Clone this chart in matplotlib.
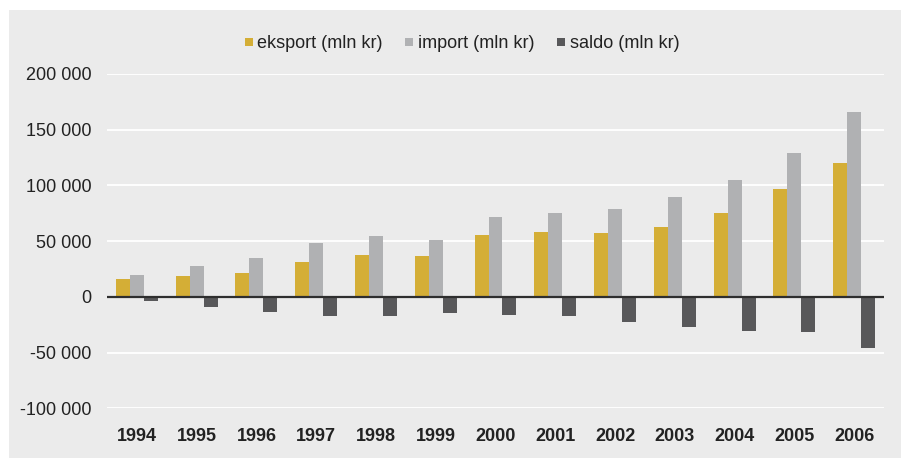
import matplotlib

matplotlib.use("Agg")
import matplotlib.pyplot as plt
import matplotlib.ticker as mtick
import numpy as np
from matplotlib.lines import Line2D
from matplotlib.patches import Rectangle

plt.rcParams["font.family"] = ["Liberation Sans", "DejaVu Sans"]

# Data (mln kr)
years = ["1994", "1995", "1996", "1997", "1998", "1999", "2000",
         "2001", "2002", "2003", "2004", "2005", "2006"]
eksport = [16200, 18900, 21600, 31500, 37800, 36900, 55800,
           58500, 57600, 63000, 75600, 97200, 119700]
import_ = [19800, 27900, 35100, 48600, 54900, 51300, 72000,
           75600, 79200, 90000, 105300, 128700, 165600]
saldo = [-3600, -9000, -13500, -17100, -17100, -14400, -16200,
         -17100, -22500, -27000, -30600, -31500, -45900]
series_labels = ["eksport (mln kr)", "import (mln kr)", "saldo (mln kr)"]
yticks = [-100000, -50000, 0, 50000, 100000, 150000, 200000]

colors = ["#D4AE36", "#B0B1B3", "#58585A"]
bg = "#EBEBEB"
text_color = "#222222"

W, H = 901, 458
fig = plt.figure(figsize=(W / 100, H / 100), dpi=100)
fig.patch.set_facecolor("white")
# grey panel behind the chart
fig.patches.append(
    Rectangle((9 / W, 0), 1 - 9 / W, (H - 10) / H,
              transform=fig.transFigure, facecolor=bg, edgecolor="none", zorder=-10)
)

ax = fig.add_axes([107 / W, (H - 408.3) / H, (884 - 107) / W, (408.3 - 74) / H])
ax.set_facecolor(bg)

x = np.arange(len(years))
width = 0.234
for i, vals in enumerate([eksport, import_, saldo]):
    ax.bar(x + (i - 1) * width, vals, width=width, color=colors[i],
           zorder=3, linewidth=0)

ax.set_xlim(-0.5, len(years) - 0.5)
ax.set_ylim(-100000, 200000)
ax.set_yticks(yticks)
ax.yaxis.set_major_formatter(
    mtick.FuncFormatter(lambda v, _: "{:,}".format(int(v)).replace(",", " "))
)
ax.set_xticks(x)
ax.set_xticklabels(years, fontweight="bold")
ax.grid(axis="y", color="white", linewidth=1.3, zorder=1)
ax.axhline(0, color="#2E2E2E", linewidth=1.6, zorder=4)

for spine in ax.spines.values():
    spine.set_visible(False)
ax.tick_params(axis="both", length=0, labelsize=13, colors=text_color)
ax.tick_params(axis="y", pad=11)
ax.tick_params(axis="x", pad=14)

handles = [Line2D([], [], marker="s", linestyle="none", markersize=5.5,
                  markerfacecolor=c, markeredgewidth=0) for c in colors]
fig.legend(
    handles, series_labels,
    loc="center",
    bbox_to_anchor=(0.5 * (243 + 681) / W, 1 - 44 / H),
    ncol=3,
    frameon=False,
    fontsize=13,
    handlelength=0.45,
    handletextpad=0.25,
    columnspacing=1.25,
    labelcolor=text_color,
)

fig.savefig("out.png", dpi=100, facecolor=fig.get_facecolor())
